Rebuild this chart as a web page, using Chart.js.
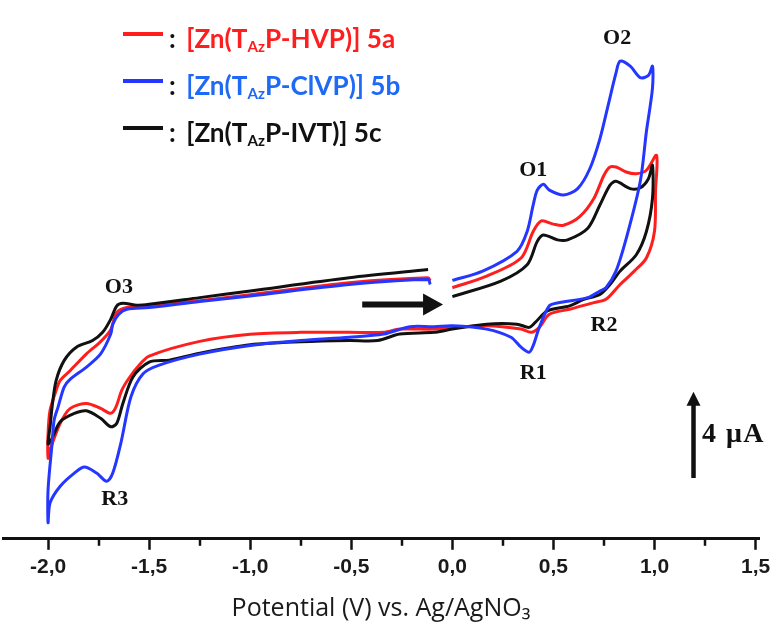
<!DOCTYPE html>
<html>
<head>
<meta charset="utf-8">
<script src="https://cdn.jsdelivr.net/npm/chart.js@4.4.1/dist/chart.umd.min.js"></script>
<style>
  html, body { margin: 0; padding: 0; background: #ffffff; }
  #wrap { position: relative; width: 779px; height: 639px; overflow: hidden; }
  #chart { position: absolute; left: 0; top: 0; }
  .swatch { position: absolute; left: 123px; width: 40px; height: 3.5px; }
  .entry { position: absolute; left: 169px; font-family: Lato, "Open Sans", sans-serif; font-weight: 700;
           font-size: 27.5px; line-height: 1; white-space: nowrap; transform: scaleX(0.95); transform-origin: 0 0; }
  .entry .colon { color: #111; margin-right: 11px; }
  .entry sub { font-size: 58%; vertical-align: baseline; position: relative; top: 4px; }
</style>
</head>
<body>
<div id="wrap">
  <canvas id="chart" width="779" height="639"></canvas>
  <div id="legend"></div>
</div>
<script>
// ---------------- data (potential in V, current in µA) ----------------
const potential5a = [0.00, 0.17, 0.34, 0.40, 0.44, 0.50, 0.55, 0.63, 0.70, 0.75, 0.78, 0.81, 0.86, 0.91, 0.96, 1.01,
  1.005, 1.00, 0.96, 0.90, 0.83, 0.76, 0.70, 0.58, 0.48, 0.43, 0.39, 0.34, 0.17, 0.00, -0.09, -0.26, -0.34, -0.51, -0.75, -1.00, -1.25, -1.50, -1.55, -1.60, -1.635, -1.665, -1.69, -1.74, -1.81, -1.89, -1.94, -1.99, -2.00,
  -2.00, -1.99, -1.96, -1.94, -1.89, -1.81, -1.74, -1.69, -1.66, -1.61, -1.50, -1.25, -1.00, -0.51, -0.12, -0.11];
const current5a = [-0.35, 0.19, 1.03, 2.26, 2.75, 2.60, 2.55, 2.95, 3.79, 4.87, 5.25, 5.25, 5.02, 4.94, 5.10, 5.79,
  4.12, 2.27, 1.03, 0.42, -0.20, -0.89, -1.04, -1.35, -1.58, -2.19, -2.42, -2.27, -2.11, -2.19, -2.27, -2.27, -2.42, -2.42, -2.42, -2.51, -2.84, -3.52, -3.95, -4.55, -5.10, -5.90, -6.18, -5.95, -5.72, -5.95, -6.64, -7.87, -8.26,
  -7.10, -6.03, -5.11, -4.65, -4.19, -3.42, -2.85, -2.30, -1.50, -1.27, -1.19, -0.95, -0.67, -0.12, 0.11, -0.03];

const potential5b = [0.00, 0.15, 0.32, 0.37, 0.40, 0.42, 0.45, 0.48, 0.55, 0.62, 0.68, 0.73, 0.77, 0.81, 0.83, 0.88, 0.93, 0.97, 0.99,
  0.99, 0.96, 0.93, 0.865, 0.81, 0.76, 0.73, 0.67, 0.53, 0.48, 0.43, 0.40, 0.38, 0.34, 0.29, 0.17, 0.00, -0.09, -0.21, -0.34, -0.51, -0.75, -1.00, -1.25, -1.45, -1.53, -1.59, -1.64, -1.68, -1.71, -1.76, -1.82, -1.87, -1.94, -1.99, -2.00,
  -2.00, -1.98, -1.97, -1.95, -1.92, -1.89, -1.81, -1.74, -1.69, -1.68, -1.65, -1.61, -1.50, -1.25, -1.00, -0.51, -0.12, -0.11];
const current5b = [-0.01, 0.42, 1.34, 2.26, 3.49, 4.18, 4.45, 4.18, 3.95, 4.25, 5.17, 6.56, 8.09, 9.63, 10.16, 9.93, 9.40, 9.50, 9.93,
  8.90, 6.90, 4.60, 2.10, 0.43, -0.35, -0.50, -0.81, -1.04, -1.19, -2.19, -3.03, -3.34, -3.11, -2.65, -2.27, -2.11, -2.16, -2.16, -2.50, -2.65, -2.80, -3.03, -3.43, -3.94, -4.34, -5.41, -7.56, -8.95, -9.33, -8.95, -8.67, -8.95, -9.56, -10.33, -11.25,
  -9.71, -7.56, -6.49, -5.87, -4.95, -4.59, -4.03, -3.42, -2.50, -2.04, -1.58, -1.35, -1.27, -0.99, -0.73, -0.20, 0.03, -0.20];

const potential5c = [0.00, 0.24, 0.37, 0.42, 0.45, 0.52, 0.57, 0.67, 0.73, 0.78, 0.81, 0.88, 0.93, 0.97, 0.99,
  0.99, 0.96, 0.91, 0.83, 0.78, 0.73, 0.65, 0.58, 0.47, 0.41, 0.38, 0.32, 0.17, 0.00, -0.09, -0.26, -0.37, -0.51, -0.75, -1.00, -1.25, -1.40, -1.50, -1.58, -1.63, -1.66, -1.69, -1.74, -1.81, -1.87, -1.94, -1.98, -2.00,
  -1.99, -1.98, -1.96, -1.92, -1.86, -1.78, -1.73, -1.69, -1.66, -1.63, -1.56, -1.50, -1.25, -1.00, -0.51, -0.12];
const current5c = [-0.76, -0.04, 0.72, 1.80, 2.10, 1.87, 1.87, 2.41, 3.49, 4.41, 4.59, 4.25, 4.29, 4.71, 5.33,
  3.79, 2.26, 1.18, 0.42, -0.20, -0.66, -0.89, -1.19, -1.42, -1.96, -2.19, -2.04, -2.04, -2.27, -2.42, -2.50, -2.80, -2.80, -2.86, -3.00, -3.39, -3.71, -3.80, -4.49, -5.72, -6.64, -6.80, -6.41, -6.06, -6.18, -6.57, -7.33, -7.60,
  -6.80, -5.87, -4.65, -3.72, -3.11, -2.80, -2.42, -1.81, -1.19, -1.07, -1.16, -1.12, -0.81, -0.50, 0.11, 0.49];

const seriesLabels = ['[Zn(TAzP-HVP)] 5a', '[Zn(TAzP-ClVP)] 5b', '[Zn(TAzP-IVT)] 5c'];
const xTickValues = [-2.0, -1.5, -1.0, -0.5, 0.0, 0.5, 1.0, 1.5];
const xMinorTicks = [-1.75, -1.25, -0.75, -0.25, 0.25, 0.75, 1.25];

// peak annotations (label, potential, current)
const peakNames = ['O1', 'O2', 'O3', 'R1', 'R2', 'R3'];
const peakPotential = [0.40, 0.815, -1.65, 0.40, 0.75, -1.67];
const peakCurrent = [5.10, 11.20, -0.35, -4.34, -2.11, -10.17];

// scale bar: 4 µA
const scaleBarCurrent = 4;

// ---------------- styling ----------------
const lineColors = ['#ff1e1e', '#2436ff', '#111111'];
const textColors = ['#ff1e1e', '#1f6af5', '#111111'];

function toPoints(xs, ys) { return xs.map((v, i) => ({ x: v, y: ys[i] })); }

// legend (HTML so the subscript can be kept as real text)
const legendHost = document.getElementById('legend');
const legendLineY = [34, 81, 128];
seriesLabels.forEach((lab, i) => {
  const sw = document.createElement('div');
  sw.className = 'swatch';
  sw.style.top = (legendLineY[i] - 1.75) + 'px';
  sw.style.background = lineColors[i];
  legendHost.appendChild(sw);
  const e = document.createElement('div');
  e.className = 'entry';
  e.style.top = (legendLineY[i] + 14 - 24.4) + 'px';
  const m = lab.match(/^(.*T)(Az)(.*)$/);
  e.innerHTML = '<span class="colon">:</span><span style="color:' + textColors[i] + '">' +
    m[1] + '<sub>' + m[2] + '</sub>' + m[3] + '</span>';
  legendHost.appendChild(e);
});

const annotate = {
  id: 'annotate',
  afterDraw(chart) {
    const { ctx, chartArea } = chart;
    const xs = chart.scales.x, ys = chart.scales.y;
    ctx.save();
    // minor ticks
    ctx.strokeStyle = '#111';
    ctx.lineWidth = 2.5;
    xMinorTicks.forEach(v => {
      const px = Math.round(xs.getPixelForValue(v));
      ctx.beginPath();
      ctx.moveTo(px, chartArea.bottom);
      ctx.lineTo(px, chartArea.bottom + 7);
      ctx.stroke();
    });
    // peak labels
    ctx.fillStyle = '#111';
    ctx.font = 'bold 22px "Liberation Serif", "Times New Roman", serif';
    ctx.textAlign = 'center';
    ctx.textBaseline = 'middle';
    peakNames.forEach((t, i) => {
      ctx.fillText(t, xs.getPixelForValue(peakPotential[i]), ys.getPixelForValue(peakCurrent[i]));
    });
    // sweep direction arrow
    const ax0 = xs.getPixelForValue(-0.446), ax1 = xs.getPixelForValue(-0.046), ay = ys.getPixelForValue(-1.13);
    ctx.lineWidth = 6;
    ctx.beginPath();
    ctx.moveTo(ax0, ay);
    ctx.lineTo(ax1 - 16, ay);
    ctx.stroke();
    ctx.beginPath();
    ctx.moveTo(ax1, ay);
    ctx.lineTo(ax1 - 20, ay - 11);
    ctx.lineTo(ax1 - 20, ay + 11);
    ctx.closePath();
    ctx.fill();
    // scale bar arrow
    const bx = xs.getPixelForValue(1.193);
    const by0 = ys.getPixelForValue(-9.18), by1 = ys.getPixelForValue(-9.18 + scaleBarCurrent);
    ctx.lineWidth = 4.5;
    ctx.beginPath();
    ctx.moveTo(bx, by0);
    ctx.lineTo(bx, by1 + 10);
    ctx.stroke();
    ctx.beginPath();
    ctx.moveTo(bx, by1);
    ctx.lineTo(bx - 7, by1 + 14);
    ctx.lineTo(bx + 7, by1 + 14);
    ctx.closePath();
    ctx.fill();
    ctx.font = 'bold 28px "Liberation Serif", "Times New Roman", serif';
    ctx.textAlign = 'left';
    if ('letterSpacing' in ctx) ctx.letterSpacing = '1.5px';
    ctx.fillText(scaleBarCurrent + ' \u03BCA', xs.getPixelForValue(1.235), ys.getPixelForValue(-7.18));
    ctx.restore();
  }
};

const order = [1, 2, 0]; // blue on top, then black, then red
const allX = [potential5a, potential5b, potential5c];
const allY = [current5a, current5b, current5c];
const datasets = order.map(i => ({
  label: seriesLabels[i],
  data: toPoints(allX[i], allY[i]),
  borderColor: lineColors[i],
  backgroundColor: lineColors[i],
  showLine: true,
  borderWidth: 3,
  pointRadius: 0,
  tension: 0.3,
  fill: false
}));

new Chart(document.getElementById('chart'), {
  type: 'scatter',
  data: { datasets },
  plugins: [annotate],
  options: {
    responsive: false,
    animation: false,
    devicePixelRatio: 1,
    layout: { padding: { left: 3, right: 20, top: 0, bottom: 15 } },
    plugins: { legend: { display: false }, tooltip: { enabled: false } },
    scales: {
      x: {
        type: 'linear',
        min: -2.223,
        max: 1.517,
        border: { display: true, color: '#111', width: 3 },
        grid: { drawOnChartArea: false, drawTicks: true, tickLength: 11, tickWidth: 2.5, tickColor: '#111' },
        afterBuildTicks: (scale) => { scale.ticks = xTickValues.map(v => ({ value: v })); },
        ticks: {
          padding: 5,
          color: '#1a1a1a',
          maxRotation: 0,
          autoSkip: false,
          font: { family: '"Liberation Sans", Arial, sans-serif', weight: 'bold', size: 21 },
          callback: (v) => Number(v).toFixed(1).replace('.', ',')
        },
        title: {
          display: true,
          text: 'Potential (V) vs. Ag/AgNO\u2083',
          color: '#1a1a1a',
          font: { family: '"Open Sans", Lato, sans-serif', size: 25, weight: 'normal' },
          padding: { top: 9, bottom: 0 }
        }
      },
      y: { type: 'linear', display: false, min: -12, max: 13 }
    }
  }
});
</script>
</body>
</html>
